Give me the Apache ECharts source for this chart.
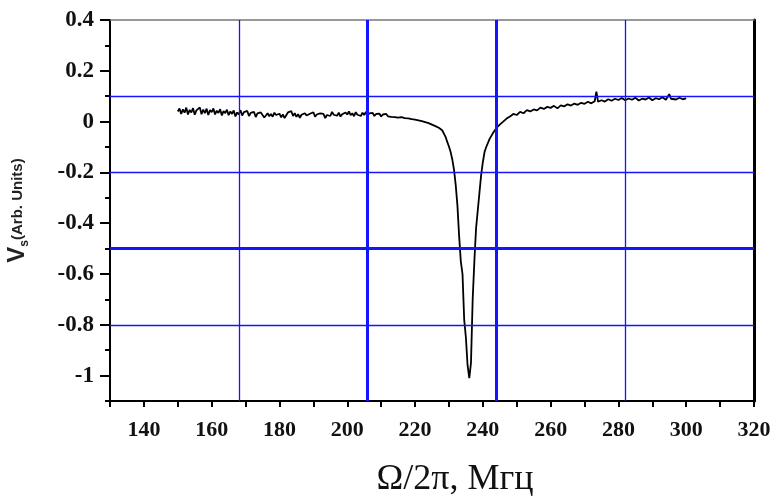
<!DOCTYPE html>
<html><head><meta charset="utf-8">
<script src="https://cdn.jsdelivr.net/npm/echarts@6/dist/echarts.min.js"></script>
<style>html,body{margin:0;padding:0;background:#fff}#c{width:775px;height:496px}</style>
</head><body><div id="c"></div>
<script>
// Frequency (MHz) and signal V_s (arb. units)
const freq = [
150,150.5,151,151.5,152,152.5,153,153.5,154,154.5,155,155.5,156,156.5,157,157.5,158,158.5,159,159.5,
160,160.5,161,161.5,162,162.5,163,163.5,164,164.5,165,165.5,166,166.5,167,167.5,168,168.5,169,169.5,
170,170.5,171,171.5,172,172.5,173,173.5,174,174.5,175,175.5,176,176.5,177,177.5,178,178.5,179,179.5,
180,180.5,181,181.5,182,182.5,183,183.5,184,184.5,185,185.5,186,186.5,187,187.5,188,188.5,189,189.5,
190,190.5,191,191.5,192,192.5,193,193.5,194,194.5,195,195.5,196,196.5,197,197.5,198,198.5,199,199.5,
200,200.5,201,201.5,202,202.5,203,203.5,204,204.5,205,205.5,206,206.5,207,207.5,208,208.5,209,209.5,
210,210.5,211,211.5,212,212.5,213,213.5,214,214.5,215,
216,217,218,219,220,221,222,223,224,225,226,227,228,
229,229.5,230,230.5,231,231.5,232,232.5,233,233.5,234,234.5,235,235.5,236,236.5,
237,237.5,238,238.5,239,239.5,240,240.5,241,242,243,244,245,
246,247,248,249,250,251,252,253,254,255,256,257,258,259,260,261,262,263,264,265,
266,267,268,269,270,271,272,273,273.5,274,275,276,277,278,279,280,281,282,283,284,
285,286,287,288,289,290,291,292,293,294,295,295.5,296,297,298,299,300];
const vs = [
0.040,0.052,0.030,0.048,0.035,0.055,0.028,0.046,0.036,0.053,0.027,0.044,0.038,0.056,0.029,0.047,0.033,0.051,0.026,0.045,
0.037,0.052,0.028,0.043,0.034,0.049,0.024,0.041,0.033,0.047,0.025,0.040,0.030,0.044,0.020,0.036,0.028,0.045,0.024,0.037,
0.031,0.042,0.022,0.034,0.027,0.038,0.018,0.032,0.025,0.036,0.029,0.016,0.024,0.033,0.021,0.030,0.019,0.035,0.026,0.022,
0.031,0.017,0.028,0.014,0.025,0.036,0.030,0.041,0.022,0.033,0.019,0.029,0.015,0.027,0.021,0.033,0.024,0.020,0.031,0.026,
0.037,0.019,0.028,0.022,0.032,0.025,0.030,0.014,0.026,0.033,0.022,0.038,0.027,0.031,0.023,0.035,0.020,0.029,0.024,0.036,
0.028,0.040,0.025,0.033,0.021,0.037,0.027,0.031,0.022,0.035,0.026,0.038,0.024,0.032,0.027,0.034,0.022,0.030,0.025,0.031,
0.020,0.028,0.023,0.030,0.021,0.026,0.019,0.025,0.018,0.022,0.016,
0.018,0.014,0.013,0.010,0.008,0.005,0.002,-0.002,-0.006,-0.012,-0.018,-0.024,-0.034,
-0.060,-0.080,-0.098,-0.120,-0.150,-0.190,-0.250,-0.330,-0.450,-0.550,-0.600,-0.780,-0.850,-0.960,-1.010,-0.950,
-0.700,-0.550,-0.420,-0.350,-0.280,-0.210,-0.160,-0.120,-0.100,-0.068,-0.045,-0.025,-0.012,
0.000,0.012,0.020,0.030,0.026,0.038,0.033,0.045,0.040,0.048,0.044,0.055,0.050,0.058,0.054,0.062,0.052,0.064,0.060,0.068,
0.063,0.071,0.066,0.074,0.070,0.078,0.072,0.080,0.118,0.078,0.084,0.079,0.088,0.082,0.090,0.085,0.093,0.084,0.091,0.086,
0.094,0.083,0.090,0.087,0.095,0.084,0.092,0.088,0.096,0.086,0.108,0.090,0.093,0.087,0.094,0.088,0.091];

// Tick labels
const xTickLabels = [140,160,180,200,220,240,260,280,300,320];
const yTickLabels = [-1,-0.8,-0.6,-0.4,-0.2,0,0.2,0.4];
const yMinorTicks = [-1.1,-0.9,-0.7,-0.5,-0.3,-0.1,0.1,0.3];
// Blue reference grid lines
const gridX = [168,206,244,282];
const gridY = [0.1,-0.2,-0.5,-0.8];
const thickX = [206,244];
const thickY = [-0.5];

const points = freq.map((f,i)=>[f,vs[i]]);
const blue = '#1414ff';
const tickFontX = {fontFamily:'Liberation Serif', fontWeight:'bold', fontSize:22, color:'#111'};
const tickFontY = {fontFamily:'Liberation Serif', fontWeight:'bold', fontSize:23, color:'#111'};

const chart = echarts.init(document.getElementById('c'), null, {renderer:'canvas'});
chart.setOption({
  animation:false,
  backgroundColor:'#fff',
  grid:{left:110, right:21, top:20, bottom:95, containLabel:false, outerBoundsMode:'none'},
  xAxis:[
    {type:'value', min:130, max:320, interval:10, position:'bottom',
     axisLine:{show:true, onZero:false, lineStyle:{color:'#000', width:2}},
     axisTick:{show:true, inside:false, length:6, lineStyle:{color:'#000', width:2}},
     axisLabel:{customValues:xTickLabels, margin:18, formatter:v=>String(v), ...tickFontX},
     splitLine:{show:false},
     name:'Ω/2π, Мгц', nameLocation:'middle', nameGap:61,
     nameTextStyle:{fontFamily:'Liberation Serif', fontSize:36, color:'#111', padding:[0,0,0,46]}},
    {type:'value', min:130, max:320, position:'top',
     axisLine:{show:true, onZero:false, lineStyle:{color:'#777', width:1.5}},
     axisTick:{show:false}, axisLabel:{show:false}, splitLine:{show:false}}
  ],
  yAxis:[
    {type:'value', min:-1.1, max:0.4, interval:0.1, position:'left',
     axisLine:{show:true, onZero:false, lineStyle:{color:'#000', width:2}},
     axisTick:{show:true, customValues:yTickLabels, length:10, lineStyle:{color:'#000', width:2}},
     axisLabel:{customValues:yTickLabels, margin:16, formatter:v=>String(+(+v).toFixed(1)), ...tickFontY},
     splitLine:{show:false},
     name:'{v|V}{s|s}{a|(Arb. Units)}', nameLocation:'middle', nameGap:79, nameRotate:90,
     nameTextStyle:{rich:{
       v:{fontFamily:'Liberation Sans', fontWeight:'bold', fontSize:24, color:'#222', lineHeight:26, verticalAlign:'top'},
       s:{fontFamily:'Liberation Sans', fontWeight:'bold', fontSize:12, color:'#222', lineHeight:12, verticalAlign:'bottom'},
       a:{fontFamily:'Liberation Sans', fontWeight:'bold', fontSize:15, color:'#222', lineHeight:24, verticalAlign:'middle'}
     }}},
    {type:'value', min:-1.1, max:0.4, position:'left',
     axisLine:{show:false},
     axisTick:{show:true, customValues:yMinorTicks, length:5, lineStyle:{color:'#000', width:2}},
     axisLabel:{show:false}, splitLine:{show:false}},
    {type:'value', min:-1.1, max:0.4, position:'right',
     axisLine:{show:true, onZero:false, lineStyle:{color:'#000', width:3}},
     axisTick:{show:false}, axisLabel:{show:false}, splitLine:{show:false}}
  ],
  series:[
    {type:'line', name:'grid', data:points, xAxisIndex:0, yAxisIndex:0, z:1,
     symbol:'none', lineStyle:{opacity:0}, silent:true,
     markLine:{silent:true, symbol:['none','none'], label:{show:false}, animation:false,
       data:[
         ...gridX.map(v=>({xAxis:v, lineStyle:{color:blue, type:'solid', width: thickX.includes(v)?3:1.3}})),
         ...gridY.map(v=>({yAxis:v, lineStyle:{color:blue, type:'solid', width: thickY.includes(v)?3:1.3}}))
       ]}},
    {type:'line', name:'Vs', data:points, xAxisIndex:0, yAxisIndex:0, z:3,
     symbol:'none', lineStyle:{color:'#000', width:1.8}}
  ]
});
</script></body></html>
